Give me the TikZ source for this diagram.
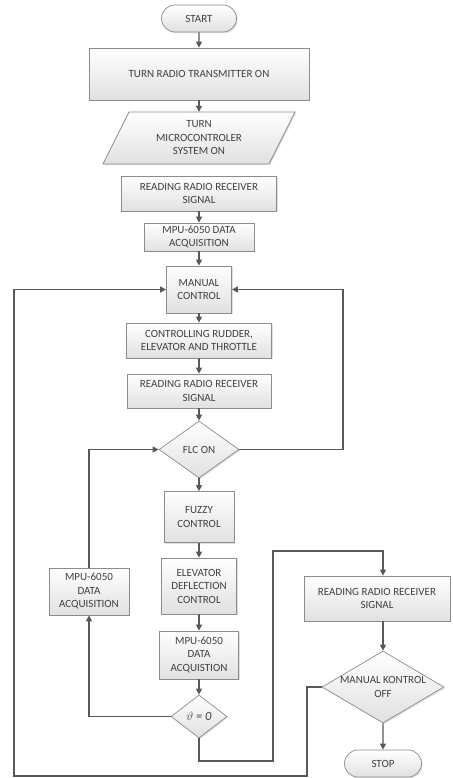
\documentclass[tikz,border=0pt]{standalone}
\usepackage{fontspec}
\setmainfont{Carlito}
\usepackage{tikz}
\usetikzlibrary{shapes.geometric,shapes.misc,arrows.meta,shadows}

\begin{document}
\begin{tikzpicture}[x=1pt,y=-1pt,
        box/.style={draw=black!45, line width=0.7pt, top color=white, bottom color=black!12,
            drop shadow={opacity=0.25, shadow xshift=1.2pt, shadow yshift=-1.2pt},
            inner sep=0pt, align=center, text=black!75, font=\fontsize{11}{13.5}\selectfont},
        proc/.style={box, rectangle},
        term/.style={box, rounded rectangle},
        dec/.style={box, diamond},
        flow/.style={draw=black!65, line width=1.1pt, -{Triangle[length=6pt,width=6pt]}}]
        \useasboundingbox (0,0) rectangle (452,778);

        % main column, x = 199
        \node[term, minimum width=75pt, minimum height=27pt] (start) at (199,18.5) {START};
        \node[proc, minimum width=220pt, minimum height=52pt] (trans) at (199,74) {TURN RADIO TRANSMITTER ON};
        \path[box] (129,112) -- (295,112) -- (269,164) -- (103,164) -- cycle;
        \node[align=center, text=black!75, font=\fontsize{11}{13.5}\selectfont,
            minimum width=166pt, minimum height=52pt, inner sep=0pt] (micro) at (199,138) {TURN\\MICROCONTROLER\\SYSTEM ON};
        \node[proc, minimum width=155pt, minimum height=35pt] (rd1) at (199,193.5) {READING RADIO RECEIVER\\SIGNAL};
        \node[proc, minimum width=110pt, minimum height=28pt] (mpu1) at (199,237) {MPU-6050 DATA\\ACQUISITION};
        \node[proc, minimum width=65pt, minimum height=47pt] (man) at (199,289.5) {MANUAL\\CONTROL};
        \node[proc, minimum width=145pt, minimum height=35pt] (ctrl) at (199,340.5) {CONTROLLING RUDDER,\\ELEVATOR AND THROTTLE};
        \node[proc, minimum width=144pt, minimum height=34pt] (rd2) at (199,391) {READING RADIO RECEIVER\\SIGNAL};
        \node[dec, minimum width=80pt, minimum height=57pt] (flc) at (199,449.5) {FLC ON};
        \node[proc, minimum width=70pt, minimum height=51pt] (fuzzy) at (199,517) {FUZZY\\CONTROL};
        \node[proc, minimum width=75pt, minimum height=56pt] (elev) at (199,586) {ELEVATOR\\DEFLECTION\\CONTROL};
        \node[proc, minimum width=79pt, minimum height=48pt] (mpu2) at (199,655) {MPU-6050\\DATA\\ACQUISTION};
        \node[dec, minimum width=56pt, minimum height=43pt, font=\fontsize{12.5}{14}\selectfont] (theta) at (199,716.5) {\textit{$\vartheta$ = 0}};

        % side boxes
        \node[proc, minimum width=80pt, minimum height=47pt] (mpu3) at (89,591.5) {MPU-6050\\DATA\\ACQUISITION};
        \node[proc, minimum width=146pt, minimum height=45pt] (rd3) at (377,598.5) {READING RADIO RECEIVER\\SIGNAL};
        \node[dec, minimum width=122pt, minimum height=72pt,
            label={[align=center, text=black!75, font=\fontsize{11}{13.5}\selectfont]center:MANUAL KONTROL\\OFF}] (off) at (383,687) {};
        \node[term, minimum width=77pt, minimum height=27pt] (stop) at (383,763.5) {STOP};

        % corners of the loops
        \coordinate (rtop) at (343,289.5);
        \coordinate (tbot) at (273,761);
        \coordinate (ttop) at (273,551);
        \coordinate (rdrop) at (307,776);
        \coordinate (lbot) at (14,776);

        \draw[flow] (start) -- (trans);
        \draw[flow] (trans) -- (micro);
        \draw[flow] (rd1) -- (mpu1);
        \draw[flow] (mpu1) -- (man);
        \draw[flow] (man) -- (ctrl);
        \draw[flow] (ctrl) -- (rd2);
        \draw[flow] (rd2) -- (flc);
        \draw[flow] (flc) -- (fuzzy);
        \draw[flow] (fuzzy) -- (elev);
        \draw[flow] (elev) -- (mpu2);
        \draw[flow] (mpu2) -- (theta);
        \draw[flow] (theta.west) -| (mpu3.south);
        \draw[flow] (mpu3.north) |- (flc.west);
        \draw[flow] (flc.east) -| (rtop) -- (man.east);
        \draw[flow] (theta.south) |- (tbot) -- (ttop) -| (rd3.north -| off.north);
        \draw[flow] (rd3.south -| off.north) -- (off.north);
        \draw[flow] (off) -- (stop);
        \draw[flow] (off.west) -| (rdrop) -- (lbot) |- (man.west);
    \end{tikzpicture}
\end{document}
